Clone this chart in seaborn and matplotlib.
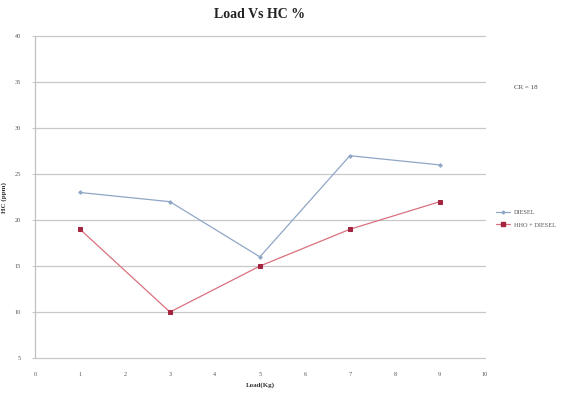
import matplotlib
matplotlib.use("Agg")
import matplotlib.pyplot as plt
import seaborn as sns
import pandas as pd

# Engine load (kg) and HC emissions (ppm) for both fuels
load = [1, 3, 5, 7, 9]
hc_diesel = [23, 22, 16, 27, 26]
hc_hho = [19, 10, 15, 19, 22]
series_names = ["DIESEL", "HHO + DIESEL"]
x_ticks = list(range(0, 11))
y_ticks = list(range(5, 41, 5))

df = pd.DataFrame({
    "Load": load * 2,
    "HC": hc_diesel + hc_hho,
    "Fuel": [series_names[0]] * len(load) + [series_names[1]] * len(load),
})

sns.set_theme(style="white")
plt.rcParams["font.family"] = ["Liberation Serif", "DejaVu Serif"]

fig = plt.figure(figsize=(5.65, 3.93), dpi=100)
ax = fig.add_axes([0.062, 0.089, 0.796, 0.819])

palette = {series_names[0]: "#8fa6c6", series_names[1]: "#d9707f"}
sns.lineplot(data=df, x="Load", y="HC", hue="Fuel", style="Fuel",
             markers={series_names[0]: "D", series_names[1]: "s"},
             dashes=False, palette=palette, linewidth=0.9,
             ax=ax, legend=False)
for line, mc, ms in zip(ax.lines, ["#8fa6c6", "#a3253f"], [1.8, 3.0]):
    line.set_markerfacecolor(mc)
    line.set_markeredgecolor(mc)
    line.set_markersize(ms)

ax.set_xlim(0, 10)
ax.set_ylim(5, 40)
ax.set_xticks(x_ticks)
ax.set_yticks(y_ticks)
ax.yaxis.grid(True, color="#c8c8c8", linewidth=0.9)
ax.xaxis.grid(False)
for gl in ax.yaxis.get_gridlines():
    gl.set_clip_on(False)
for side in ["top", "right", "bottom"]:
    ax.spines[side].set_visible(False)
ax.spines["left"].set_color("#c0c0c0")
ax.spines["left"].set_linewidth(0.9)
ax.tick_params(axis="both", labelsize=4.5, colors="#555555", length=2,
               width=0.6, pad=8)
ax.tick_params(axis="x", length=0, pad=10)
ax.tick_params(axis="y", left=True, color="#c0c0c0")

ax.set_xlabel("Load(Kg)", fontsize=5, fontweight="bold", color="#333333",
              labelpad=4)
ax.set_ylabel("HC (ppm)", fontsize=5, fontweight="bold", color="#333333",
              labelpad=6)
ax.set_title("Load Vs HC %", fontsize=10, fontweight="bold", color="#222222",
             pad=13)

# Legend built from the same styles as the plotted lines
handles = [plt.Line2D([], [], color="#8fa6c6", marker="D", markersize=1.5,
                      markerfacecolor="#8fa6c6", linewidth=0.9),
           plt.Line2D([], [], color="#d9707f", marker="s", markersize=3,
                      markerfacecolor="#a3253f", markeredgecolor="#a3253f",
                      linewidth=0.9)]
fig.legend(handles, series_names, loc="center left",
           bbox_to_anchor=(0.868, 0.444), frameon=False, fontsize=4.5,
           handlelength=2.2, handletextpad=0.6, labelspacing=1.2,
           labelcolor="#555555")

fig.text(0.93, 0.778, "CR = 18", fontsize=5, color="#444444",
         ha="center", va="center")

fig.savefig("out.png", dpi=100, facecolor="white")
